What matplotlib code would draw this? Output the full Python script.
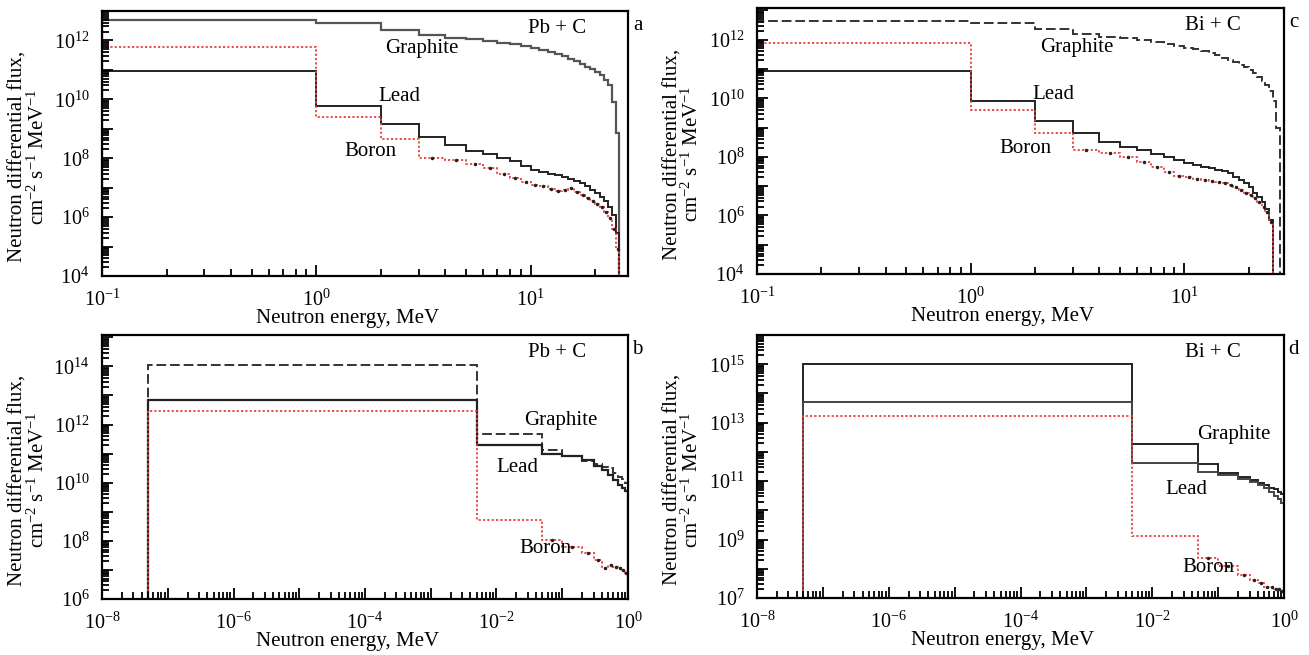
import numpy as np
import matplotlib
matplotlib.use('Agg')
import matplotlib.pyplot as plt
from matplotlib.ticker import LogLocator, FixedLocator, FuncFormatter, NullFormatter

plt.rcParams['font.family'] = ['Liberation Serif', 'DejaVu Serif']
plt.rcParams['mathtext.fontset'] = 'custom'
plt.rcParams['mathtext.rm'] = 'Liberation Serif'
plt.rcParams['mathtext.it'] = 'Liberation Serif:italic'

# ---- panel a / c : fast neutrons, 0.1 .. ~28 MeV ----
edges_a = [0.1, 1, 2, 3, 4, 5, 6, 7, 8, 9, 10, 11, 12, 13, 14, 15, 16, 17, 18, 19, 20, 21, 22, 23, 24, 25, 26]
graphite_a = [5.0e12, 3.8e12, 2.3e12, 1.5e12, 1.2e12, 1.1e12, 9.5e11, 8.5e11, 7.3e11, 6.3e11,
              5.4e11, 4.6e11, 4.0e11, 3.4e11, 2.9e11, 2.4e11, 2.0e11, 1.6e11, 1.3e11, 1.05e11,
              8.5e10, 6.5e10, 4.5e10, 3.0e10, 8e9, 7e8]
lead_a = [9e10, 6e9, 1.5e9, 5.4e8, 2.8e8, 1.7e8, 1.35e8, 1.05e8, 8e7, 5.5e7,
          4e7, 3.4e7, 3e7, 2.6e7, 2.3e7, 2e7, 1.7e7, 1.4e7, 1.1e7, 8.5e6,
          6.5e6, 5e6, 3.5e6, 2.2e6, 1.2e6, 3e5]
boron_a = [5.9e11, 2.6e9, 4.4e8, 1.05e8, 8.5e7, 6.5e7, 4.5e7, 3e7, 2.2e7, 1.5e7,
           1.25e7, 1.1e7, 9e6, 7.5e6, 8.5e6, 9.5e6, 7e6, 5.5e6, 4.5e6, 3.5e6,
           2.8e6, 2.2e6, 1.5e6, 9e5, 4e5, 8e4]

edges_c = [0.1, 1, 2, 3, 4, 5, 6, 7, 8, 9, 10, 11, 12, 13, 14, 15, 16, 17, 18, 19, 20, 21, 22, 23, 24, 25, 26, 27, 28]
graphite_c = [4.4e12, 3.6e12, 2.3e12, 1.5e12, 1.25e12, 1.1e12, 9.5e11, 8.3e11, 7.2e11, 6.2e11,
              5.3e11, 4.6e11, 4.0e11, 3.4e11, 2.9e11, 2.4e11, 2.0e11, 1.7e11, 1.4e11, 1.15e11,
              9e10, 7e10, 5.5e10, 4e10, 2.8e10, 1.8e10, 8e9, 1e9]
lead_c = [8.7e10, 7.9e9, 1.7e9, 6.4e8, 3.2e8, 2.1e8, 1.65e8, 1.2e8, 9.8e7, 7.6e7,
          6.2e7, 5.2e7, 4.5e7, 4.0e7, 3.6e7, 3.3e7, 2.7e7, 2.1e7, 1.6e7, 1.25e7,
          9e6, 6e6, 4.2e6, 2.8e6, 1.6e6, 7e5]
boron_c = [7.4e11, 4e9, 6.5e8, 1.66e8, 1.3e8, 1e8, 6.6e7, 4.5e7, 3e7, 2.3e7,
           2e7, 1.8e7, 1.6e7, 1.5e7, 1.4e7, 1.3e7, 1.1e7, 9e6, 7.5e6, 6e6,
           4.8e6, 3.8e6, 2.8e6, 2e6, 1.3e6, 6e5]

# ---- panel b / d : low energy, 5e-8 .. 1 MeV ----
edges_bd = [5e-8, 5e-3, 0.05, 0.1, 0.2, 0.3, 0.4, 0.5, 0.6, 0.7, 0.8, 0.9, 1.0]
graphite_b = [1.15e14, 4.8e11, 1.35e11, 8e10, 5.4e10, 4.5e10, 3.6e10, 3.2e10, 2.1e10, 1.6e10, 1.3e10, 1e10]
lead_b = [6.8e12, 2e11, 9.6e10, 8e10, 5.8e10, 3.7e10, 2.8e10, 1.9e10, 1.26e10, 8.5e9, 6.5e9, 5e9]
boron_b = [3e12, 5.3e8, 1.07e8, 6.3e7, 3.7e7, 2.2e7, 1.15e7, 1.5e7, 1.3e7, 1.15e7, 1e7, 7.6e6]

graphite_d = [1e15, 1.8e12, 4e11, 1.9e11, 1.4e11, 1.07e11, 8.7e10, 7.2e10, 6e10, 5.2e10, 4.3e10, 3.6e10]
lead_d = [5.1e13, 4.2e11, 2.1e11, 1.6e11, 1.22e11, 9.5e10, 7.3e10, 5.6e10, 4.3e10, 3.2e10, 2.4e10, 1.8e10]
boron_d = [1.66e13, 1.3e9, 2.3e8, 1.2e8, 6.1e7, 4.1e7, 3.2e7, 2.4e7, 2.4e7, 2.1e7, 2e7, 1.8e7]

W, H = 1309, 655
fig = plt.figure(figsize=(W / 100, H / 100), dpi=100)


def px_axes(l, r, t, b):
    ax = fig.add_axes([l / W, 1 - b / H, (r - l) / W, (b - t) / H])
    ax.px_h = b - t
    return ax


def exp_fmt(parity, every=2):
    def f(v, pos):
        e = int(round(np.log10(v)))
        if every == 2 and e % 2 != parity:
            return ''
        return r'$\mathdefault{10^{%d}}$' % e
    return FuncFormatter(f)


def decades(lo, hi):
    a, b = int(np.ceil(np.log10(lo) - 1e-9)), int(np.floor(np.log10(hi) + 1e-9))
    return [10.0 ** k for k in range(a, b + 1)]


def style(ax, xlim, ylim, xpar, xevery, ypar):
    ax.set_xscale('log')
    ax.set_yscale('log')
    ax.set_xlim(*xlim)
    ax.set_ylim(*ylim)
    ax.xaxis.set_major_locator(FixedLocator(decades(*xlim)))
    ax.yaxis.set_major_locator(FixedLocator(decades(*ylim)))
    for axis in (ax.xaxis, ax.yaxis):
        axis.set_minor_locator(LogLocator(base=10, subs=np.arange(2, 10), numticks=30))
        axis.set_minor_formatter(NullFormatter())
    ax.xaxis.set_major_formatter(exp_fmt(xpar, xevery))
    ax.yaxis.set_major_formatter(exp_fmt(ypar, 2))
    ax.tick_params(which='both', direction='in', top=False, right=False, labelsize=14.5, width=1.3)
    ax.tick_params(which='major', length=8, pad=9)
    ax.tick_params(which='minor', length=5)
    ax.tick_params(axis='x', which='major', pad=10)
    for s in ax.spines.values():
        s.set_linewidth(1.6)
    ax.set_xlabel('Neutron energy, MeV', fontsize=15)
    ax.xaxis.set_label_coords(0.466, -33 / ax.px_h)
    ax.set_ylabel('Neutron differential flux,\ncm$^{-2}$ s$^{-1}$ MeV$^{-1}$', fontsize=15, linespacing=0.95)
    ax.yaxis.set_label_coords(-0.102, 0.45)


def annotate(ax, name, letter, g, l, b):
    ax.text(0.865, 0.935, name, transform=ax.transAxes, ha='center', va='center', fontsize=15)
    ax.text(1.018, 0.945, letter, transform=ax.transAxes, ha='center', va='center', fontsize=15)
    ax.text(g[0], g[1], 'Graphite', transform=ax.transAxes, ha='center', va='center', fontsize=15)
    ax.text(l[0], l[1], 'Lead', transform=ax.transAxes, ha='center', va='center', fontsize=15)
    ax.text(b[0], b[1], 'Boron', transform=ax.transAxes, ha='center', va='center', fontsize=15)


def boron_dots(ax, edges, vals, start):
    e = np.array(edges[:len(vals) + 1])
    mid = np.sqrt(e[:-1] * e[1:])
    ax.plot(mid[start:], vals[start:], ls='none', marker='.', ms=3, color='#222222')


red = '#e8413c'
dot = (0, (1.2, 1.2))

# a
ax = px_axes(102, 628, 11, 276)
ax.stairs(graphite_a, edges_a, baseline=1.0, color='#555555', lw=1.6)
ax.stairs(lead_a, edges_a, baseline=1.0, color='#222222', lw=1.4)
ax.stairs(boron_a, edges_a, baseline=1.0, color=red, lw=1.3, ls=dot)
boron_dots(ax, edges_a, boron_a, 3)
style(ax, (0.1, 28.5), (1e4, 1e13), 0, 1, 0)
annotate(ax, 'Pb + C', 'a', (0.608, 0.86), (0.565, 0.678), (0.51, 0.47))

# c
ax = px_axes(757, 1284, 8, 274)
ax.stairs(graphite_c, edges_c, baseline=1.0, color='#333333', lw=1.4, ls=(0, (5, 2)))
ax.stairs(lead_c, edges_c[:len(lead_c) + 1], baseline=1.0, color='#222222', lw=1.4)
ax.stairs(boron_c, edges_c[:len(boron_c) + 1], baseline=1.0, color=red, lw=1.3, ls=dot)
boron_dots(ax, edges_c, boron_c, 3)
style(ax, (0.1, 29.3), (1e4, 1.2e13), 0, 1, 0)
annotate(ax, 'Bi + C', 'c', (0.607, 0.85), (0.562, 0.673), (0.51, 0.47))

# b
ax = px_axes(102, 628, 335, 599)
ax.stairs(graphite_b, edges_bd, baseline=1.0, color='#333333', lw=1.4, ls=(0, (5, 2)))
ax.stairs(lead_b, edges_bd, baseline=1.0, color='#222222', lw=1.6)
ax.stairs(boron_b, edges_bd, baseline=1.0, color=red, lw=1.3, ls=dot)
boron_dots(ax, edges_bd, boron_b, 2)
style(ax, (1e-8, 1), (1e6, 1.2e15), 0, 2, 0)
annotate(ax, 'Pb + C', 'b', (0.873, 0.675), (0.79, 0.50), (0.843, 0.19))

# d
ax = px_axes(757, 1284, 335, 598)
ax.stairs(graphite_d, edges_bd, baseline=1.0, color='#222222', lw=1.4)
ax.stairs(lead_d, edges_bd, baseline=1.0, color='#444444', lw=1.4)
ax.stairs(boron_d, edges_bd, baseline=1.0, color=red, lw=1.3, ls=dot)
boron_dots(ax, edges_bd, boron_d, 2)
style(ax, (1e-8, 1), (1e7, 1e16), 0, 2, 1)
annotate(ax, 'Bi + C', 'd', (0.905, 0.622), (0.814, 0.413), (0.856, 0.117))

fig.savefig('out.png', dpi=100)
